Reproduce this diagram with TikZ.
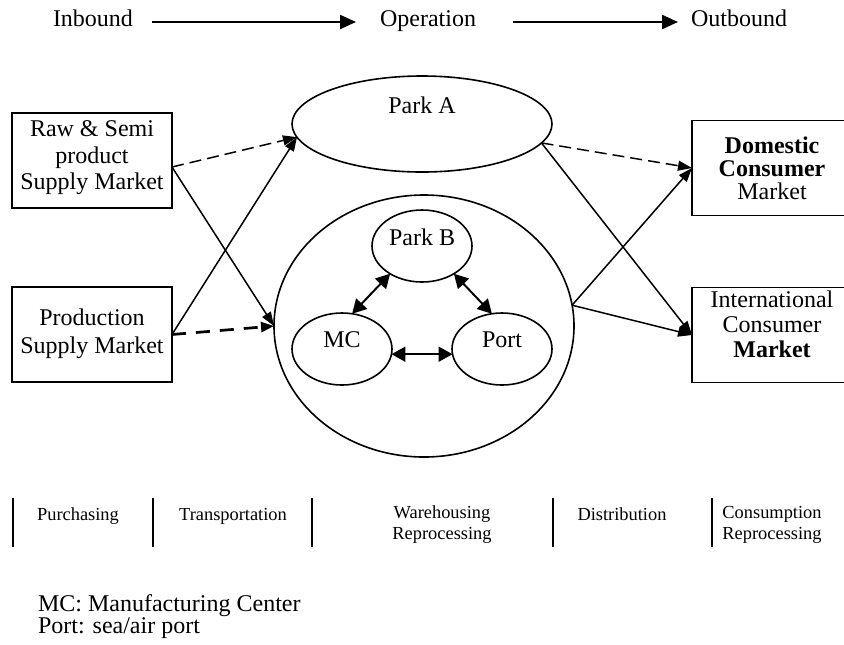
\documentclass[tikz,border=0pt]{standalone}
\usepackage{fontspec}
\setmainfont{Liberation Serif}
\usetikzlibrary{arrows.meta,shapes.geometric,calc}
\begin{document}
\begin{tikzpicture}[x=0.5pt,y=-0.5pt,
  every node/.style={inner sep=0pt,outer sep=0pt},
  lbl/.style={font=\fontsize{12}{13.5}\selectfont},
  small/.style={font=\fontsize{9.2}{10.5}\selectfont},
  box/.style={draw,line width=0.8pt,minimum width=80pt,minimum height=47.5pt},
  oval/.style={draw,ellipse,line width=0.8pt},
  smalloval/.style={oval,minimum width=50pt,minimum height=36pt},
  conn/.style={line width=0.75pt,-{Triangle[length=7pt,width=5pt]}},
  dconn/.style={conn,dash pattern=on 6pt off 3pt},
  thickdash/.style={line width=1.35pt,dash pattern=on 7pt off 5pt,-{Triangle[length=6.5pt,width=5pt]}},
  dbl/.style={line width=1pt,{Triangle[length=7pt,width=7.5pt]}-{Triangle[length=7pt,width=7.5pt]}},
  toparrow/.style={line width=1.1pt,-{Triangle[length=8pt,width=7pt]}},
  vline/.style={line width=1pt}
]
\useasboundingbox (0,0) rectangle (844,644);

% top row
\node[lbl,anchor=base] (inb) at (93,26) {Inbound};
\node[lbl,anchor=base] (op) at (428,26) {Operation};
\node[lbl,anchor=base] (outb) at (739,26) {Outbound};
\draw[toparrow] ([xshift=9.5pt,yshift=2pt]inb.base east) -- ([xshift=-12pt,yshift=2pt]op.base west);
\draw[toparrow] ([xshift=18.5pt,yshift=2pt]op.base east) -- ([xshift=-6.5pt,yshift=2pt]outb.base west);

% left boxes
\node[box] (b1) at (92,160.5) {};
\node[align=center,font=\fontsize{12}{13.25}\selectfont] (b1t) at (92,158) {Raw \& Semi\\product\\Supply Market};
\node[box] (b2) at (92,334.5) {};
\node[align=center,font=\fontsize{12}{14}\selectfont] (b2t) at (92,333.5) {Production\\Supply Market};

% right boxes
\node[box] (dom) at (772,168) {};
\node[align=center,font=\fontsize{12}{11.5}\selectfont] (domt) at (772,168.5) {\textbf{Domestic}\\\textbf{Consumer}\\Market};
\node[box] (intl) at (772,335) {};
\node[align=center,font=\fontsize{12}{12.5}\selectfont] (intlt) at (772,324) {International\\Consumer\\\textbf{Market}};

% ellipses
\node[oval,minimum width=130pt,minimum height=48pt] (parkA) at (422,124) {};
\node[lbl,anchor=base] (parkAt) at (422,113) {Park A};
\node[oval,minimum width=150pt,minimum height=131pt] (cir) at (424,326) {};
\node[smalloval] (pb) at (422,246) {};
\node[lbl,anchor=base] (pbt) at (422,245) {Park B};
\node[smalloval] (mc) at (342,349) {};
\node[lbl,anchor=base] (mct) at (342,347) {MC};
\node[smalloval] (port) at (502,349) {};
\node[lbl,anchor=base] (portt) at (502,347) {Port};

% left connectors
\coordinate (b1o) at ([yshift=-3.25pt]b1.east);
\draw[dconn] (b1o) -- (parkA.186);
\draw[conn] (b1o) -- (cir.west);
\draw[conn] (b2.east) -- (parkA.186);
\draw[thickdash] (b2.east) -- (cir.west);

% right connectors
\draw[conn] (cir.8) -- (dom.west);
\draw[conn] (cir.8) -- (intl.west);
\draw[dconn] (parkA.-9) -- (dom.west);
\draw[conn] (parkA.-9) -- (intl.west);

% inner
\draw[dbl] (pb.221) -- (mc.74);
\draw[dbl] (pb.319) -- (port.106);
\draw[dbl] (mc.-6) -- (port.186);

% bottom band
\foreach \x in {13,153,312,553,712} \draw[vline] (\x,498) -- (\x,547);
\node[small,anchor=base] (pur) at (78,520) {Purchasing};
\node[small,anchor=base] (tra) at (233,520) {Transportation};
\node[small,anchor=base] (war1) at (442,518) {Warehousing};
\node[small,anchor=base] (war2) at (442,539) {Reprocessing};
\node[small,anchor=base] (dis) at (622,520) {Distribution};
\node[small,anchor=base] (con1) at (772,518) {Consumption};
\node[small,anchor=base] (con2) at (772,539) {Reprocessing};

% legend
\node[lbl,anchor=base west] (leg1) at (38,611) {MC: Manufacturing Center};
\node[lbl,anchor=base west] (leg2) at (38,633) {Port: sea/air port};
\end{tikzpicture}
\end{document}
